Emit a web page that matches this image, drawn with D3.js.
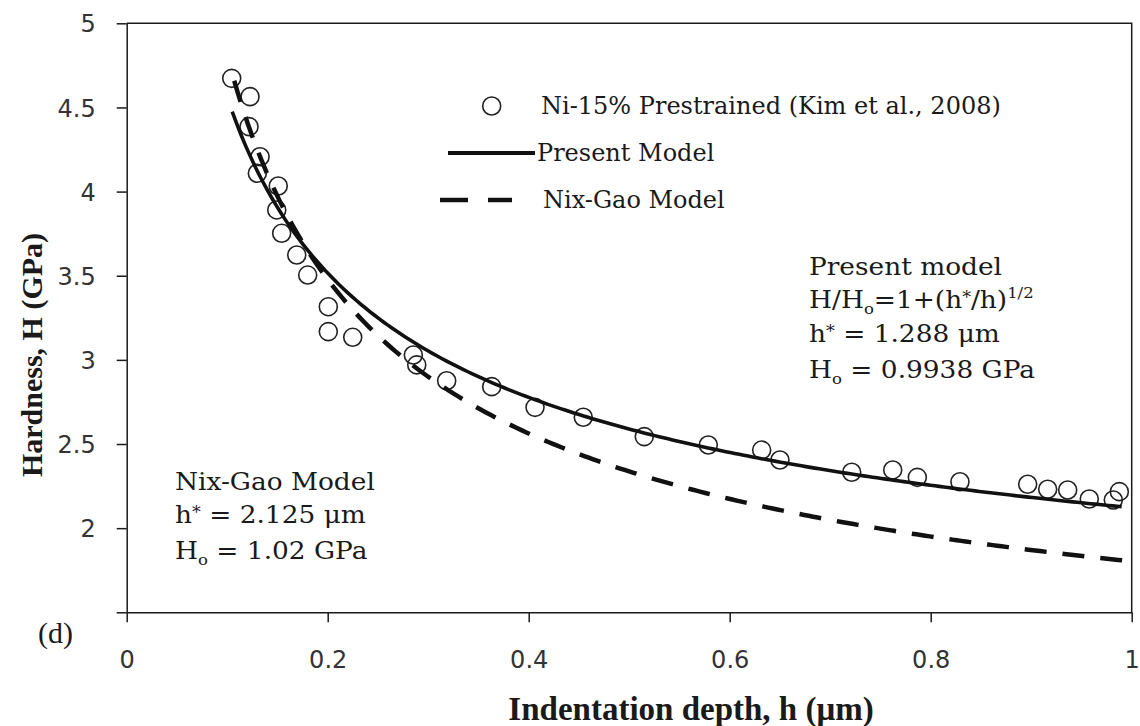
<!DOCTYPE html>
<html>
<head>
<meta charset="utf-8">
<script src="https://cdn.jsdelivr.net/npm/d3@7"></script>
<style>
  html, body { margin: 0; padding: 0; background: #fff; }
  svg { display: block; }
</style>
</head>
<body>
<svg id="chart" width="1140" height="726"></svg>
<script>
// Measured hardness of prestrained Ni (Kim et al., 2008)
const depth = [0.1045, 0.1227, 0.1217, 0.1327, 0.1300, 0.1508, 0.1493, 0.1542, 0.1692, 0.1801,
               0.2006, 0.2006, 0.2249, 0.2852, 0.2886, 0.3184, 0.3632, 0.4063, 0.4543, 0.5150,
               0.5787, 0.6318, 0.6500, 0.7214, 0.7622, 0.7867, 0.8291, 0.8965, 0.9164, 0.9363,
               0.9578, 0.9817, 0.9877];
const hardness = [4.673, 4.564, 4.386, 4.207, 4.109, 4.033, 3.891, 3.752, 3.623, 3.504,
                  3.316, 3.168, 3.134, 3.029, 2.970, 2.876, 2.841, 2.718, 2.659, 2.544,
                  2.494, 2.464, 2.405, 2.332, 2.346, 2.302, 2.276, 2.261, 2.231, 2.227,
                  2.173, 2.167, 2.217];

// Fitted model parameters (as printed on the chart)
const presentParams = { hStar: 1.288, H0: 0.9938 };   // H/H0 = 1 + (h*/h)^1/2
const nixGaoParams  = { hStar: 2.125, H0: 1.02 };     // H/H0 = (1 + h*/h)^1/2
const presentRange = [0.105, 0.99];
const nixGaoRange  = [0.107, 1.0];

const xTicks = [0, 0.2, 0.4, 0.6, 0.8, 1];
const yTicks = [1.5, 2, 2.5, 3, 3.5, 4, 4.5, 5];
const yTickLabels = ["", "2", "2.5", "3", "3.5", "4", "4.5", "5"];

const svg = d3.select("#chart");
const plot = { left: 126.7, right: 1131.7, top: 23.3, bottom: 612.3 };

const x = d3.scaleLinear().domain([0, 1]).range([plot.left, plot.right]);
const y = d3.scaleLinear().domain([1.5, 5]).range([plot.bottom, plot.top]);

const ink = "#1a1a1a";
const serif = "'DejaVu Serif', serif";
const tickFont = "'DejaVu Sans', sans-serif";

// Plot frame: top and right edges
svg.append("path")
  .attr("d", `M${plot.left},${plot.top}H${plot.right}V${plot.bottom}`)
  .attr("fill", "none").attr("stroke", ink).attr("stroke-width", 1.5);

// Axes
const xAxis = svg.append("g")
  .attr("transform", `translate(0,${plot.bottom})`)
  .call(d3.axisBottom(x).tickValues(xTicks).tickSize(10).tickSizeOuter(0)
        .tickFormat(d => d === 0 || d === 1 ? d3.format("d")(d) : d3.format(".1f")(d)));
xAxis.select(".domain").attr("stroke", ink).attr("stroke-width", 1.5);
xAxis.selectAll(".tick line").attr("stroke", ink).attr("stroke-width", 1.5);
xAxis.selectAll(".tick text")
  .attr("y", 0).attr("dy", null)
  .attr("transform", "translate(0,56)")
  .attr("font-family", tickFont).attr("font-size", 24).attr("fill", "#333");

const yAxis = svg.append("g")
  .attr("transform", `translate(${plot.left},0)`)
  .call(d3.axisLeft(y).tickValues(yTicks).tickSize(10).tickSizeOuter(0)
        .tickFormat((d, i) => yTickLabels[i]));
yAxis.select(".domain").attr("stroke", ink).attr("stroke-width", 1.5);
yAxis.selectAll(".tick line").attr("stroke", ink).attr("stroke-width", 1.5);
yAxis.selectAll(".tick text")
  .attr("x", -31).attr("dy", "0.36em")
  .attr("font-family", tickFont).attr("font-size", 24).attr("fill", "#333");

// Axis titles
svg.append("text")
  .attr("x", 691).attr("y", 720).attr("text-anchor", "middle")
  .attr("font-family", "'Liberation Serif', serif").attr("font-weight", "bold")
  .attr("font-size", 33).attr("fill", ink)
  .text("Indentation depth,  h (\u03BCm)");

svg.append("text")
  .attr("transform", "translate(42,355) rotate(-90)").attr("text-anchor", "middle")
  .attr("font-family", "'Liberation Serif', serif").attr("font-weight", "bold")
  .attr("font-size", 30).attr("fill", ink)
  .text("Hardness, H (GPa)");

svg.append("text")
  .attr("x", 38).attr("y", 643)
  .attr("font-family", "'Liberation Serif', serif").attr("font-size", 30).attr("fill", ink)
  .text("(d)");

// Model curves
const presentModel = h => presentParams.H0 * (1 + Math.sqrt(presentParams.hStar / h));
const nixGaoModel  = h => nixGaoParams.H0 * Math.sqrt(1 + nixGaoParams.hStar / h);
const sampleDepths = ([a, b]) => d3.range(0, 201).map(i => a + (b - a) * i / 200);

const line = d3.line().x(d => x(d[0])).y(d => y(d[1]));

// Data markers
svg.append("g").selectAll("circle")
  .data(depth.map((d, i) => [d, hardness[i]]))
  .join("circle")
  .attr("cx", d => x(d[0])).attr("cy", d => y(d[1])).attr("r", 9)
  .attr("fill", "none").attr("stroke", "#222").attr("stroke-width", 1.6);

svg.append("path")
  .datum(sampleDepths(nixGaoRange).map(h => [h, nixGaoModel(h)]))
  .attr("d", line).attr("fill", "none").attr("stroke", "#111")
  .attr("stroke-width", 4.5).attr("stroke-dasharray", "22,16");

svg.append("path")
  .datum(sampleDepths(presentRange).map(h => [h, presentModel(h)]))
  .attr("d", line).attr("fill", "none").attr("stroke", "#111")
  .attr("stroke-width", 3.6);

// Legend
const legend = svg.append("g").attr("font-family", serif).attr("font-size", 24).attr("fill", ink);
legend.append("circle").attr("cx", 491.7).attr("cy", 106).attr("r", 9)
  .attr("fill", "none").attr("stroke", "#222").attr("stroke-width", 1.6);
legend.append("text").attr("x", 541).attr("y", 114).text("Ni-15% Prestrained (Kim et al., 2008)");
legend.append("line").attr("x1", 448).attr("x2", 535).attr("y1", 153).attr("y2", 153)
  .attr("stroke", "#111").attr("stroke-width", 4);
legend.append("text").attr("x", 537).attr("y", 161).text("Present Model");
legend.append("line").attr("x1", 440).attr("x2", 512).attr("y1", 200).attr("y2", 200)
  .attr("stroke", "#111").attr("stroke-width", 4.5).attr("stroke-dasharray", "28,20");
legend.append("text").attr("x", 543).attr("y", 208).text("Nix-Gao Model");

// Parameter annotation blocks (slightly widened serif text)
function annotationBlock(x0, yLines) {
  const g = svg.append("g")
    .attr("transform", `translate(${x0},0) scale(1.1,1)`)
    .attr("font-family", serif).attr("font-size", 24).attr("fill", ink);
  return yLines.map(yy => g.append("text").attr("x", 0).attr("y", yy));
}
function hStarLine(t, value) {
  t.append("tspan").text("h");
  t.append("tspan").attr("font-size", 16).attr("dy", -5).text("*");
  t.append("tspan").attr("dy", 5).text(" = " + value + " \u03BCm");
}
function h0Line(t, value) {
  t.append("tspan").text("H");
  t.append("tspan").attr("font-size", 15).attr("dy", 6).text("o");
  t.append("tspan").attr("dy", -6).text(" = " + value + " GPa");
}

const pr = annotationBlock(809, [275, 308, 342, 378]);
pr[0].text("Present model");
pr[1].append("tspan").text("H/H");
pr[1].append("tspan").attr("font-size", 15).attr("dy", 6).text("o");
pr[1].append("tspan").attr("dy", -6).text("=1+(h");
pr[1].append("tspan").attr("font-size", 16).attr("dy", -5).text("*");
pr[1].append("tspan").attr("dy", 5).text("/h)");
pr[1].append("tspan").attr("font-size", 15).attr("dy", -10).text("1/2");
hStarLine(pr[2], presentParams.hStar.toFixed(3));
h0Line(pr[3], presentParams.H0.toFixed(4));

const ng = annotationBlock(175, [490, 523, 559]);
ng[0].text("Nix-Gao Model");
hStarLine(ng[1], nixGaoParams.hStar.toFixed(3));
h0Line(ng[2], nixGaoParams.H0.toFixed(2));
</script>
</body>
</html>
